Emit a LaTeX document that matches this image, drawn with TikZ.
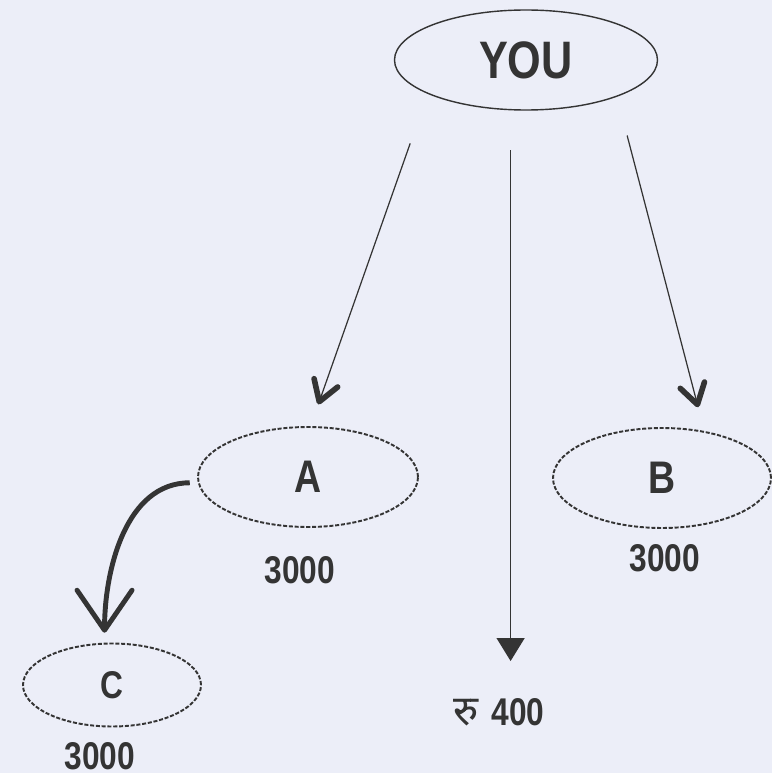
\documentclass[tikz,border=0pt]{standalone}
\usepackage{fontspec}
\setmainfont{Liberation Sans}
\newfontfamily\narrowfont[FakeStretch=0.82]{Liberation Sans}
\newfontfamily\devafont[Script=Devanagari]{Noto Sans}
\usetikzlibrary{arrows.meta,shapes.geometric}
\definecolor{paper}{RGB}{236,238,248}
\definecolor{ink}{RGB}{52,52,52}
\tikzset{
  person/.style={ellipse, draw=ink, line width=0.8pt, inner sep=0pt},
  friend/.style={ellipse, draw=ink, line width=1.1pt, dash pattern=on 2.3pt off 1pt, inner sep=0pt},
  amount/.style={text=ink, font=\narrowfont\bfseries\fontsize{22}{22}\selectfont},
  link/.style={draw=ink, line width=0.7pt, -{Straight Barb[length=4mm,width=5mm,line width=3.2pt,round]}},
}
\begin{document}
\begin{tikzpicture}
\useasboundingbox[fill=paper] (0,0) rectangle (15.44,15.46);
\node[person, minimum width=5.26cm, minimum height=2cm, text=ink, font=\narrowfont\bfseries\fontsize{30}{30}\selectfont] (you) at (10.52,14.26) {YOU};
\node[friend, minimum width=4.4cm, minimum height=2cm, text=ink, font=\narrowfont\bfseries\fontsize{26}{26}\selectfont] (a) at (6.16,5.92) {A};
\node[friend, minimum width=4.36cm, minimum height=2cm, text=ink, font=\narrowfont\bfseries\fontsize{26}{26}\selectfont] (b) at (13.24,5.90) {B};
\node[friend, minimum width=3.56cm, minimum height=1.66cm, text=ink, font=\narrowfont\bfseries\fontsize{22}{22}\selectfont] (c) at (2.24,1.76) {C};
\node[amount] (asum) at (6.0,4.06) {3000};
\node[amount] (bsum) at (13.3,4.30) {3000};
\node[amount] (csum) at (2.0,0.34) {3000};
\node[amount] (cash) at (9.98,1.22) {{\devafont\fontsize{24}{24}\selectfont रु}\hspace{0.25cm}400};
% arrows
\draw[link, shorten <=1.05cm, shorten >=0.46cm] (you.199) -- (a.87);
\draw[link, shorten <=0.8cm, shorten >=0.49cm] (you.338) -- (b.48);
\draw[draw=ink, line width=0.7pt, -{Triangle[length=4.6mm,width=5.6mm]}, shorten <=0.8cm, shorten >=0.62cm] (you.253) -- (you.253 |- cash.north);
\draw[draw=ink, line width=2.8pt, -{Straight Barb[length=8mm,width=11mm,line width=2.8pt,round]}, shorten <=0.16cm, shorten >=0.2cm] (a.183) to[out=180,in=90] (c.100);
\end{tikzpicture}
\end{document}
